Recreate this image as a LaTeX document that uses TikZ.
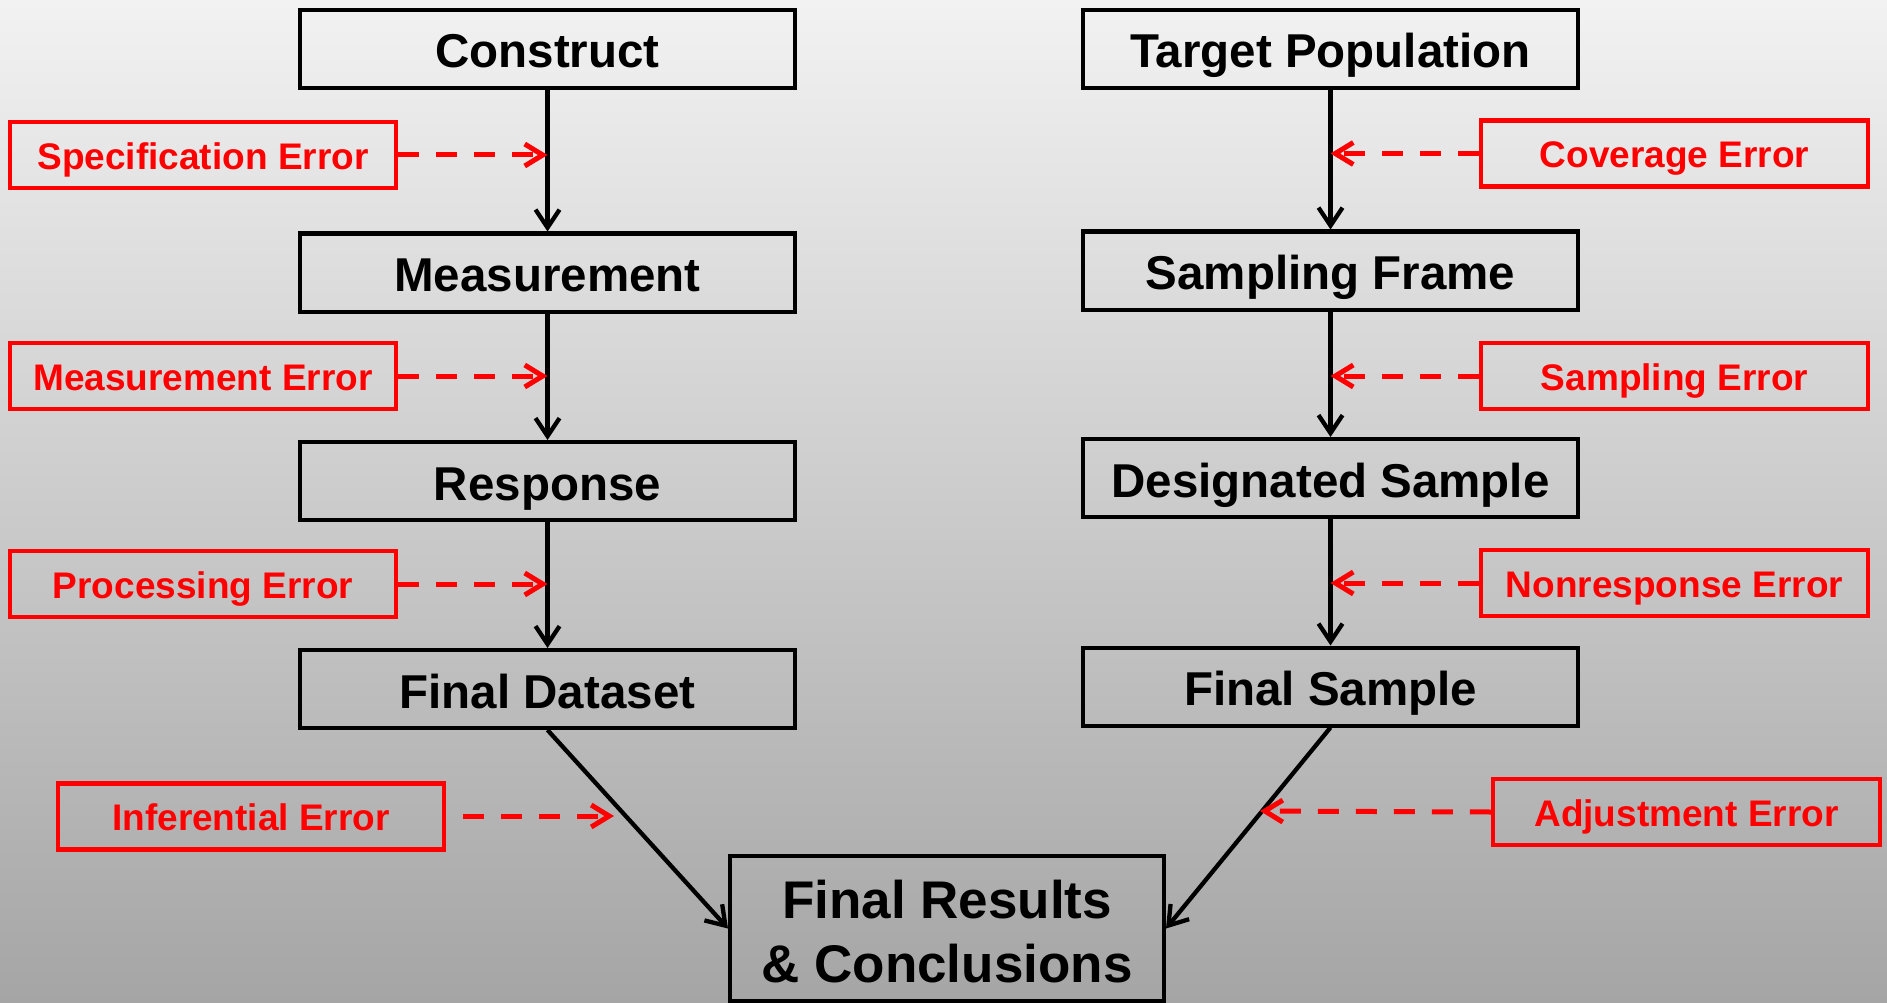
\documentclass[tikz,border=0pt]{standalone}
\usepackage{fontspec}
\setmainfont{Liberation Sans}
\usetikzlibrary{arrows.meta}
\definecolor{bgtop}{HTML}{F2F2F2}
\definecolor{bgbot}{HTML}{A5A5A5}
\definecolor{errred}{HTML}{FF0000}
\begin{document}
\begin{tikzpicture}[x=1pt,y=-1pt,
  stagebox/.style={draw=black, line width=4pt, minimum width=495pt, minimum height=78pt, inner sep=0pt, text height=40pt, text depth=2pt, font=\fontsize{47.5}{56}\selectfont\bfseries},
  errbox/.style={draw=errred, line width=4.5pt, minimum width=386pt, minimum height=66pt, inner sep=0pt, text height=30pt, text depth=1.4pt, text=errred, font=\fontsize{37}{44}\selectfont\bfseries},
  flow/.style={line width=4.3pt, -{Straight Barb[length=18pt,width=24pt]}},
  errflow/.style={errred, line width=5pt, dash pattern=on 21pt off 17pt, -{Straight Barb[length=18pt,width=22pt]}}
]
\useasboundingbox (0,0) rectangle (1887,1003);
\shade[top color=bgtop, bottom color=bgbot] (0,0) rectangle (1887,1003);

% left column
\node[stagebox] (con) at (547.5,49) {Construct};
\node[stagebox] (mea) at (547.5,272.5) {Measurement};
\node[stagebox] (rsp) at (547.5,481) {Response};
\node[stagebox] (fds) at (547.5,689) {Final Dataset};
% right column
\node[stagebox] (tp) at (1330.5,49) {Target Population};
\node[stagebox] (sf) at (1330.5,270.5) {Sampling Frame};
\node[stagebox] (ds) at (1330.5,478) {Designated Sample};
\node[stagebox] (fs) at (1330.5,686.5) {Final Sample};
% result
\node[draw=black, line width=4pt, inner sep=0pt, minimum width=434pt, minimum height=145pt, align=center,
      text height=108pt, text depth=0pt, font=\fontsize{53}{64}\selectfont\bfseries] (res) at (947,928.5) {Final Results\\\& Conclusions};

% error boxes
\node[errbox] (spec) at (203,155) {Specification Error};
\node[errbox] (merr) at (203,376) {Measurement Error};
\node[errbox] (perr) at (203,584) {Processing Error};
\node[errbox] (ierr) at (251,816.5) {Inferential Error};
\node[errbox, minimum width=387pt] (cov) at (1674.5,153.5) {Coverage Error};
\node[errbox, minimum width=387pt] (serr) at (1674.5,376) {Sampling Error};
\node[errbox, minimum width=387pt] (nerr) at (1674.5,583) {Nonresponse Error};
\node[errbox, minimum width=387pt] (aerr) at (1686.5,812) {Adjustment Error};

% main flow
\draw[flow] (con.south) -- (mea.north);
\draw[flow] (mea.south) -- (rsp.north);
\draw[flow] (rsp.south) -- (fds.north);
\draw[flow] (tp.south) -- (sf.north);
\draw[flow] (sf.south) -- (ds.north);
\draw[flow] (ds.south) -- (fs.north);
\draw[flow] (fds.south) -- (res.west);
\draw[flow] (fs.south) -- (res.east);

% error arrows
\coordinate (infS) at (463,816);
\coordinate (infT) at (614,816);
\coordinate (adjT) at (1260,811);
\draw[errflow] (spec.east) -- (spec.east -| con.south);
\draw[errflow] (merr.east) -- (merr.east -| mea.south);
\draw[errflow] (perr.east) -- (perr.east -| rsp.south);
\draw[errflow] (infS) -- (infT);
\draw[errflow] (cov.west) -- (cov.west -| tp.south);
\draw[errflow] (serr.west) -- (serr.west -| sf.south);
\draw[errflow] (nerr.west) -- (nerr.west -| ds.south);
\draw[errflow] (aerr.west) -- (adjT);
\end{tikzpicture}
\end{document}
